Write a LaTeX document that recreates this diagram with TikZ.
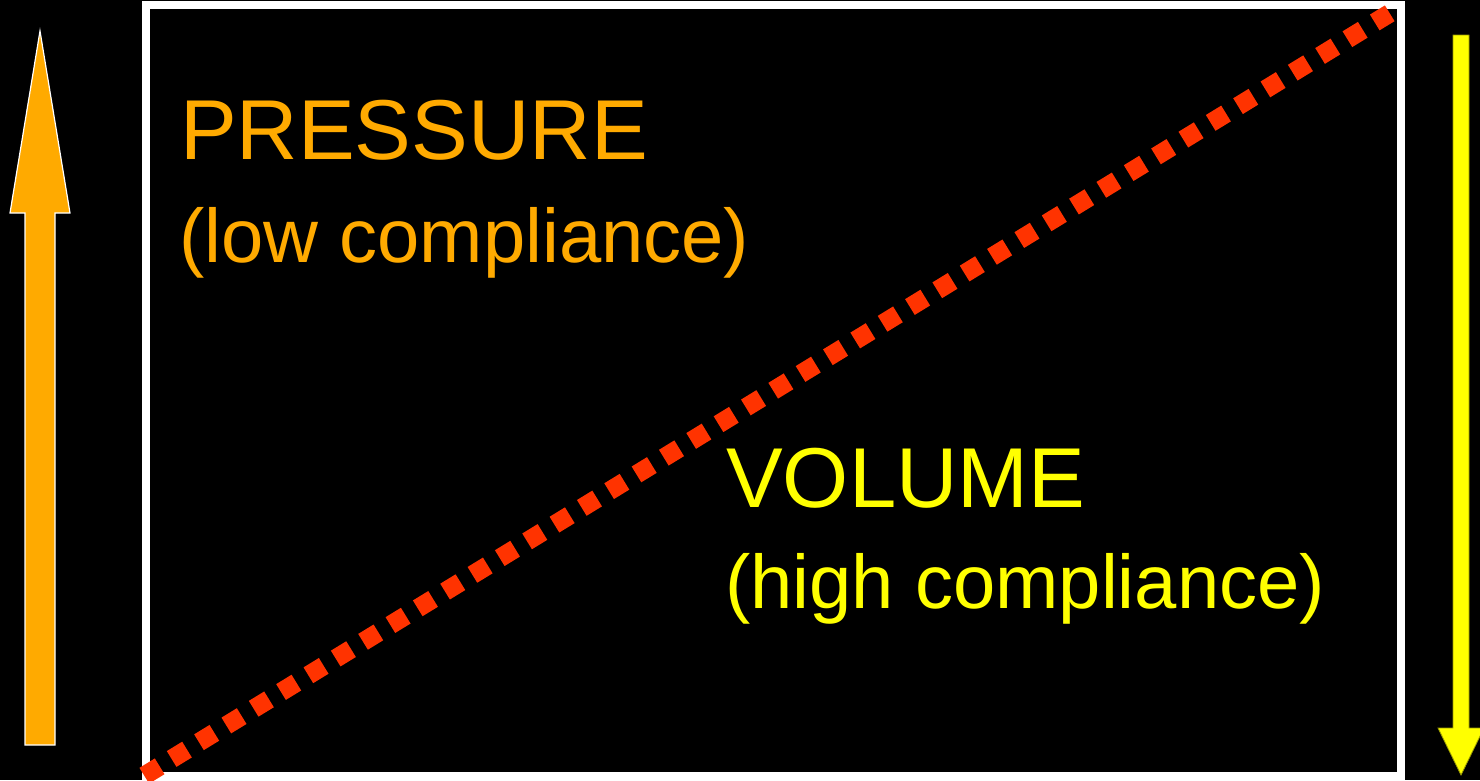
\documentclass[tikz,border=0pt]{standalone}
\usepackage{fontspec}
\setmainfont{Liberation Sans}
\definecolor{orangeC}{HTML}{FFAA00}
\definecolor{yellowC}{HTML}{FFFF00}
\definecolor{redC}{HTML}{FF3300}
\begin{document}
\begin{tikzpicture}[x=1pt,y=-1pt,
  big/.style={anchor=base west,inner sep=0pt,font=\fontsize{85}{100}\selectfont},
  small/.style={anchor=base west,inner sep=0pt,font=\fontsize{76}{90}\selectfont}]
\useasboundingbox (0,0) rectangle (1480,780);
\fill[black] (0,0) rectangle (1480,780);
\begin{scope}
\clip (0,0) rectangle (1480,780);
% frame
\draw[white,line width=8pt] (146,5) rectangle (1401,776);
% orange up arrow
\filldraw[fill=orangeC,draw=white,line width=1.2pt,line join=miter]
  (25,745) -- (25,213) -- (10,213) -- (40,31) -- (70,213) -- (55,213) -- (55,745) -- cycle;
% yellow down arrow
\filldraw[fill=yellowC,draw=yellowC!60!black,line width=0.8pt]
  (1453,35) -- (1469,35) -- (1469,728) -- (1484,728) -- (1461,775) -- (1438,728) -- (1453,728) -- cycle;
% dotted diagonal
\coordinate (d0) at (144.3,775.7);
\coordinate (d1) at (1389.7,13.3);
\draw[redC,line width=18.5pt,line cap=butt,dash pattern=on 18pt off 14.06pt] (d0) -- (d1);
\end{scope}
\node[big,text=orangeC] (pressure) at (180,159) {PRESSURE};
\node[small,text=orangeC] (lowc) at (179,262) {(low compliance)};
\node[big,text=yellowC] (volume) at (726,507) {VOLUME};
\node[small,text=yellowC] (highc) at (725,608) {(high compliance)};
\end{tikzpicture}
\end{document}
